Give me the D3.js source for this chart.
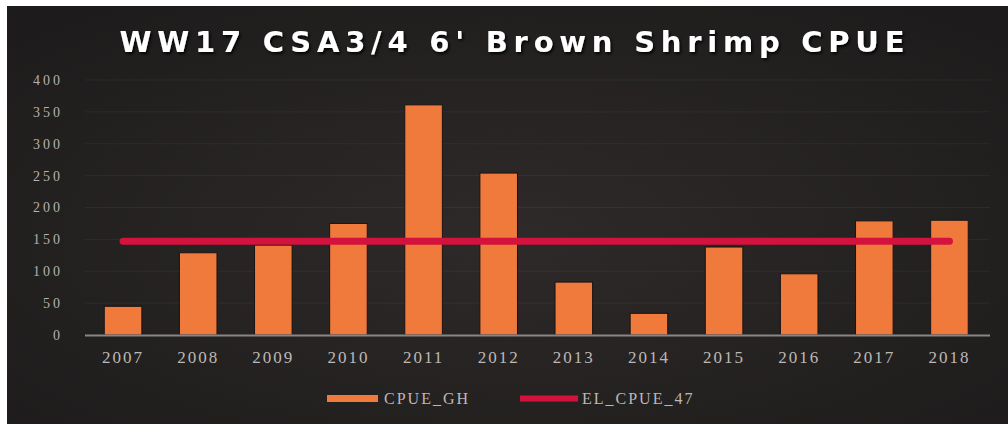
<!DOCTYPE html>
<html><head><meta charset="utf-8">
<script src="https://cdn.jsdelivr.net/npm/d3@7"></script>
<style>html,body{margin:0;padding:0;background:#fff;overflow:hidden}</style>
</head><body><svg id="c" width="1008" height="424"></svg>
<script>
const categories = ["2007","2008","2009","2010","2011","2012","2013","2014","2015","2016","2017","2018"];
const cpueGH = [45,129,141,175,361,254,83,34,138,96,179,180];
const elCpue47 = [147,147,147,147,147,147,147,147,147,147,147,147];
const yTicks = [0,50,100,150,200,250,300,350,400];
const tickLabels = ["0","50","100","150","200","250","300","350","400"];
const seriesNames = ["CPUE_GH","EL_CPUE_47"];
const title = "WW17 CSA3/4 6' Brown Shrimp CPUE";

const svg = d3.select("#c");
const defs = svg.append("defs");
const g1 = defs.append("radialGradient").attr("id","bg").attr("cx","50%").attr("cy","55%").attr("r","70%");
g1.append("stop").attr("offset","0%").attr("stop-color","#2e2a29");
g1.append("stop").attr("offset","100%").attr("stop-color","#1d1b1b");
const f = defs.append("filter").attr("id","sh").attr("x","-5%").attr("y","-30%").attr("width","110%").attr("height","160%");
f.append("feDropShadow").attr("dx",1.5).attr("dy",2).attr("stdDeviation",1.5).attr("flood-color","#000").attr("flood-opacity",0.9);

svg.append("rect").attr("x",7).attr("y",6).attr("width",1001).attr("height",418).attr("fill","url(#bg)");

const x = d3.scaleBand().domain(categories).range([85.5,987]).paddingInner(0.5).paddingOuter(0.25);
const y = d3.scaleLinear().domain([0,400]).range([335,80]);

// grid
svg.append("g").selectAll("line").data(yTicks.slice(1)).join("line")
  .attr("x1",85).attr("x2",990).attr("y1",d=>y(d)).attr("y2",d=>y(d))
  .attr("stroke","rgba(255,255,255,0.05)").attr("stroke-width",1);

// y axis
const yAxis = d3.axisLeft(y).tickValues(yTicks).tickFormat((d,i)=>tickLabels[i]).tickSize(0).tickPadding(0);
const ya = svg.append("g").attr("transform","translate(63,0)").call(yAxis)
  .attr("font-family","'Liberation Serif',serif").attr("font-size",14);
ya.select(".domain").remove();
ya.selectAll("text").attr("fill","#b5b1af").style("letter-spacing","3px");

// bars
svg.append("g").selectAll("rect").data(categories).join("rect")
  .attr("x",d=>x(d)).attr("width",x.bandwidth())
  .attr("y",(d,i)=>y(cpueGH[i])).attr("height",(d,i)=>y(0)-y(cpueGH[i]))
  .attr("fill","#f07a3c").attr("stroke","#1a1414").attr("stroke-width",1);

// baseline
svg.append("line").attr("x1",85).attr("x2",990).attr("y1",y(0)+0.5).attr("y2",y(0)+0.5)
  .attr("stroke","#8a8686").attr("stroke-width",2);

// line
const line = d3.line().x((d,i)=>x(categories[i])+x.bandwidth()/2).y(d=>y(d));
svg.append("path").datum(elCpue47).attr("d",line).attr("fill","none")
  .attr("stroke","#d3123e").attr("stroke-width",7).attr("stroke-linecap","round");

// x axis
const xAxis = d3.axisBottom(x).tickSize(0).tickPadding(0);
const xa = svg.append("g").attr("transform","translate(0,363)").call(xAxis)
  .attr("font-family","'Liberation Serif',serif").attr("font-size",17);
xa.select(".domain").remove();
xa.selectAll("text").attr("dy",0).attr("fill","#bdb8b6").style("letter-spacing","2px");

// title
svg.append("text").attr("x",512).attr("y",52).attr("text-anchor","middle")
  .attr("textLength",785).attr("lengthAdjust","spacing")
  .attr("fill","#ffffff").attr("filter","url(#sh)")
  .style("font-family","'DejaVu Sans',sans-serif").style("font-weight","bold").style("font-size","29px")
  .text(title);

// legend
const lg = svg.append("g").attr("font-family","'Liberation Serif',serif").attr("font-size",16);
lg.append("rect").attr("x",327).attr("y",395).attr("width",51).attr("height",7).attr("fill","#f07a3c");
lg.append("text").attr("x",384).attr("y",404).text(seriesNames[0]).attr("fill","#bdb8b6").style("letter-spacing","2px");
lg.append("line").attr("x1",520).attr("x2",578).attr("y1",398.5).attr("y2",398.5).attr("stroke","#d3123e").attr("stroke-width",6);
lg.append("text").attr("x",582).attr("y",404).text(seriesNames[1]).attr("fill","#bdb8b6").style("letter-spacing","2px");
</script></body></html>
